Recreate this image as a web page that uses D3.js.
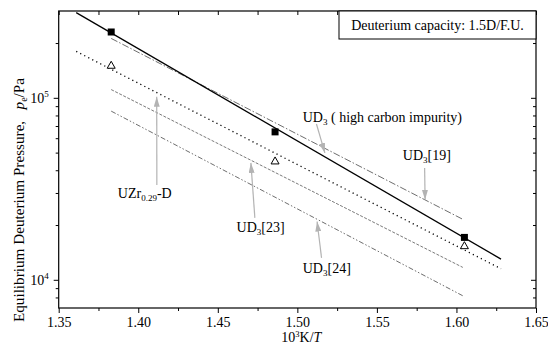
<!DOCTYPE html>
<html>
<head>
<meta charset="utf-8">
<script src="https://cdn.jsdelivr.net/npm/d3@7"></script>
<style>
  body { margin: 0; background: #fff; }
  text { font-family: "Liberation Serif", "Times New Roman", serif; fill: #000; }
</style>
</head>
<body>
<div id="chart"></div>
<script>
// straight fits (two end points each, log scale)
var solidX = [1.361, 1.628], solidY = [2.94e5, 1.30e4];
var dotX = [1.361, 1.628], dotY = [1.80e5, 1.15e4];
var ud19X = [1.383, 1.604], ud19Y = [2.12e5, 2.15e4];
var ud23X = [1.383, 1.604], ud23Y = [1.11e5, 1.17e4];
var ud24X = [1.383, 1.604], ud24Y = [8.45e4, 8.17e3];
// measured points
var ptX = [1.383, 1.486, 1.605];
var squareY = [2.30e5, 6.5e4, 1.71e4];
var triY = [1.51e5, 4.5e4, 1.54e4];
// ticks
var xMajor = [1.35, 1.40, 1.45, 1.50, 1.55, 1.60, 1.65];
var xMinor = [1.375, 1.425, 1.475, 1.525, 1.575, 1.625];
var yMajor = [1e4, 1e5];
var yMinor = [8e3, 9e3, 2e4, 3e4, 4e4, 5e4, 6e4, 7e4, 8e4, 9e4, 2e5];
// annotations: [main, subscript, rest]
var noteParts = [["UD", "3", " ( high carbon impurity)"], ["UD", "3", "[19]"], ["UZr", "0.29", "-D"], ["UD", "3", "[23]"], ["UD", "3", "[24]"]];
var noteX = [1.5034, 1.5663, 1.3872, 1.4618, 1.5034];
var noteY = [7.83e4, 4.85e4, 3.01e4, 1.95e4, 1.16e4];
var arrFromX = [1.512, 1.580, 1.4117, 1.4733, 1.5152];
var arrFromY = [7.18e4, 4.11e4, 3.32e4, 2.19e4, 1.32e4];
var arrToX = [1.5173, 1.5803, 1.4116, 1.4708, 1.5124];
var arrToY = [4.98e4, 2.75e4, 1.013e5, 4.39e4, 2.09e4];

var width = 548, height = 346;
var m = {left: 58.7, right: 12, top: 11, bottom: 38};
var w = width - m.left - m.right, h = height - m.top - m.bottom;

var svg = d3.select("#chart").append("svg")
    .attr("width", width)
    .attr("height", height);

svg.append("defs").append("marker")
    .attr("id", "arr")
    .attr("viewBox", "0 -3 10 6")
    .attr("refX", 10).attr("refY", 0)
    .attr("markerWidth", 10).attr("markerHeight", 6)
    .attr("markerUnits", "userSpaceOnUse")
    .attr("orient", "auto")
    .append("path").attr("d", "M0,-3L10,0L0,3Z").attr("fill", "#b3b3b3");

var g = svg.append("g").attr("transform", "translate(" + m.left + "," + m.top + ")");

var x = d3.scaleLinear().domain([1.35, 1.65]).range([0, w]);
var y = d3.scaleLog().domain([7000, 300000]).range([h, 0]);

// axes
function clean(sel) {
    sel.attr("font-family", null);
    sel.select(".domain").remove();
    sel.selectAll("line").attr("stroke", "#000");
}
g.append("g").attr("transform", "translate(0," + h + ")")
    .call(d3.axisBottom(x).tickValues(xMajor).tickSize(5).tickPadding(4).tickFormat(d3.format(".2f")))
    .call(clean)
    .selectAll("text").style("font-size", "14px");
g.append("g").attr("transform", "translate(0," + h + ")")
    .call(d3.axisBottom(x).tickValues(xMinor).tickSize(3).tickFormat("")).call(clean);
g.append("g").call(d3.axisTop(x).tickValues(xMajor.concat(xMinor)).tickSize(-4).tickFormat("")).call(clean);

var yAx = g.append("g")
    .call(d3.axisLeft(y).tickValues(yMajor).tickSize(5).tickFormat(""))
    .call(clean);
yAx.selectAll(".tick").append("text")
    .attr("x", -10).attr("y", 5)
    .attr("text-anchor", "end")
    .style("font-size", "14px")
    .each(function(d) {
        var t = d3.select(this);
        t.append("tspan").text("10");
        t.append("tspan").attr("dy", -6).style("font-size", "9px").text(Math.round(Math.log10(d)));
    });
g.append("g").call(d3.axisLeft(y).tickValues(yMinor).tickSize(3).tickFormat("")).call(clean);
g.append("g").attr("transform", "translate(" + w + ",0)")
    .call(d3.axisRight(y).tickValues(yMajor).tickSize(-5).tickFormat("")).call(clean);
g.append("g").attr("transform", "translate(" + w + ",0)")
    .call(d3.axisRight(y).tickValues(yMinor).tickSize(-3).tickFormat("")).call(clean);

g.append("rect").attr("width", w).attr("height", h)
    .attr("fill", "none").attr("stroke", "#000").attr("stroke-width", 1.2);

// lines
var line = d3.line().x(function(d) { return x(d[0]); }).y(function(d) { return y(d[1]); });
var series = [
    {xs: ud19X, ys: ud19Y, color: "#6e6e6e", dash: "7,2,1.5,2", sw: 1},
    {xs: ud23X, ys: ud23Y, color: "#7a7a7a", dash: "3,1.5", sw: 1},
    {xs: ud24X, ys: ud24Y, color: "#6e6e6e", dash: "5,2,1.5,2,1.5,2", sw: 1},
    {xs: dotX, ys: dotY, color: "#000", dash: "1.2,3.3", sw: 1.3},
    {xs: solidX, ys: solidY, color: "#000", dash: null, sw: 1.3}
];
series.forEach(function(s) {
    g.append("path")
        .datum(d3.zip(s.xs, s.ys))
        .attr("d", line)
        .attr("fill", "none")
        .attr("stroke", s.color)
        .attr("stroke-width", s.sw)
        .attr("stroke-dasharray", s.dash);
});

// markers
g.selectAll(".sq").data(d3.zip(ptX, squareY)).enter().append("rect")
    .attr("x", function(d) { return x(d[0]) - 3.5; })
    .attr("y", function(d) { return y(d[1]) - 3.5; })
    .attr("width", 7).attr("height", 7).attr("fill", "#000");
g.selectAll(".tri").data(d3.zip(ptX, triY)).enter().append("path")
    .attr("transform", function(d) { return "translate(" + x(d[0]) + "," + y(d[1]) + ")"; })
    .attr("d", "M0,-4L4,3L-4,3Z")
    .attr("fill", "#fff").attr("stroke", "#000").attr("stroke-width", 1);

// annotations
noteParts.forEach(function(p, i) {
    g.append("line")
        .attr("x1", x(arrFromX[i])).attr("y1", y(arrFromY[i]))
        .attr("x2", x(arrToX[i])).attr("y2", y(arrToY[i]))
        .attr("stroke", "#b3b3b3").attr("stroke-width", 1.2)
        .attr("marker-end", "url(#arr)");
    var t = g.append("text")
        .attr("x", x(noteX[i])).attr("y", y(noteY[i]) + 5)
        .style("font-size", "14px").attr("xml:space", "preserve");
    t.append("tspan").text(p[0]);
    t.append("tspan").attr("dy", 3).style("font-size", "9px").text(p[1]);
    t.append("tspan").attr("dy", -3).text(p[2]);
});

// capacity box
var bx = w - 197;
g.append("rect").attr("x", bx).attr("y", 0).attr("width", 197).attr("height", 28)
    .attr("fill", "#fff").attr("stroke", "#000").attr("stroke-width", 1);
g.append("text").attr("x", bx + 98.5).attr("y", 19)
    .attr("text-anchor", "middle").style("font-size", "14px")
    .text("Deuterium capacity: 1.5D/F.U.");

// axis titles
var xt = svg.append("text").attr("x", m.left + w / 2 + 4).attr("y", 341.5)
    .attr("text-anchor", "middle").style("font-size", "14px");
xt.append("tspan").text("10");
xt.append("tspan").attr("dy", -5).style("font-size", "8.5px").text("3");
xt.append("tspan").attr("dy", 5).text("K/");
xt.append("tspan").style("font-style", "italic").text("T");

var yt = svg.append("text")
    .attr("transform", "translate(24,200) rotate(-90)")
    .attr("text-anchor", "middle").style("font-size", "15.2px")
    .attr("xml:space", "preserve");
yt.append("tspan").text("Equilibrium Deuterium Pressure,   ");
yt.append("tspan").style("font-style", "italic").text("p");
yt.append("tspan").attr("dy", 3).style("font-size", "10px").text("e");
yt.append("tspan").attr("dy", -3).text("/Pa");
</script>
</body>
</html>
